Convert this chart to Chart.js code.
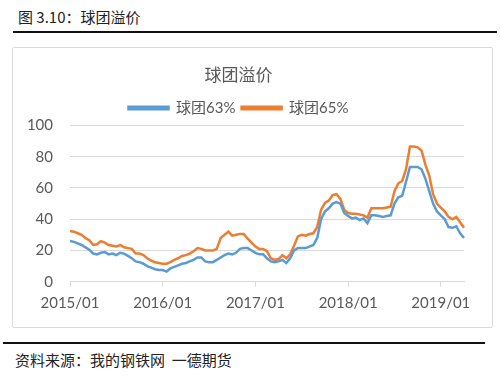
<!DOCTYPE html>
<html>
<head>
<meta charset="utf-8">
<script src="https://cdn.jsdelivr.net/npm/chart.js@4"></script>
<style>
  body { margin: 0; background: #fff; }
  #page { position: relative; width: 500px; height: 382px; overflow: hidden; font-family: "Noto Sans CJK SC", sans-serif; }
  #figTitle { position: absolute; left: 18px; top: 6px; font-size: 15px; color: #222; }
  .rule { position: absolute; height: 2px; background: #111; }
  #box { position: absolute; left: 12px; top: 47px; width: 481px; height: 281px; box-sizing: border-box; border: 1px solid #d9d9d9; border-radius: 2px; }
  #wrap { position: absolute; left: 0; top: 0; width: 479px; height: 279px; }
  #source { position: absolute; left: 15px; top: 349px; font-size: 15px; color: #222; white-space: pre; }
</style>
</head>
<body>
<div id="page">
  <div id="figTitle">图 3.10：球团溢价</div>
  <div class="rule" style="left:13px; top:31px; width:484px;"></div>
  <div id="box">
    <div id="wrap"><canvas id="premiumChart"></canvas></div>
  </div>
  <div class="rule" style="left:3px; top:342px; width:482px;"></div>
  <div id="source">资料来源：我的钢铁网  一德期货</div>
</div>
<script>
  // half-month points, 2015/01/01 .. 2019/04/01
  const years = [2015, 2016, 2017, 2018, 2019];
  const dates = [];
  years.forEach((y) => {
    for (let m = 1; m <= 12; m++) {
      const mm = String(m).padStart(2, "0");
      dates.push(y + "/" + mm + "/01", y + "/" + mm + "/16");
    }
  });
  dates.length = 103;

  const pellet63 = [
    26, 25.5, 24.5, 23.5, 22, 20.5, 18, 17.5, 18.5, 19,
    17.5, 18, 17, 18.5, 18, 16.5, 15, 13, 12.5, 11.5,
    10, 9, 8, 7.5, 7.5, 6.5, 8.5, 9.5, 10.5, 11.5,
    12, 13, 14, 15.5, 15.5, 13, 12.5, 12.5, 14, 15.5,
    17, 18, 17.5, 18.5, 21, 21.5, 21.5, 20, 18.5, 17.5,
    17.5, 15, 13, 12.5, 13, 14, 12, 15, 20, 21.5,
    21.5, 21.5, 22.5, 23.5, 28, 40, 45, 47, 50, 51,
    50, 44, 42, 40.5, 41, 39.5, 40.5, 37.5, 42.5, 42.5,
    42, 41.5, 42, 42.5, 50, 54, 55, 64, 73.5, 73.5,
    73.5, 72, 66, 58, 50, 45, 42.5, 40, 35, 34.5,
    35.5, 31, 28
  ];

  const pellet65 = [
    32.5, 32, 31, 30, 28, 26.5, 23.5, 24, 26, 25,
    23.5, 23, 22.5, 23.5, 22, 21.5, 21, 18, 18, 17,
    15, 13.5, 12.5, 12, 11.5, 11.5, 12.5, 14, 15, 16.5,
    17, 18, 19.5, 21.5, 21, 20, 20, 20, 21, 28,
    30, 32, 29.5, 30, 30.5, 30.5, 27.5, 25, 22.5, 21,
    21, 19.5, 15, 14, 14.5, 17, 15, 17.5, 23, 29,
    30, 29.5, 30.5, 31, 35, 46, 50.5, 52, 55.5, 56,
    53, 46, 44, 43.5, 43.5, 43, 42.5, 41, 47, 47,
    47, 47, 47.5, 48, 58, 63, 64.5, 72, 86.5, 86.5,
    86, 84, 75, 68, 56, 50, 47.5, 45, 41.5, 40,
    41.5, 38, 34.5
  ];

  const yTicks = [0, 20, 40, 60, 80, 100];

  const isYearStart = (i) => dates[i] && dates[i].endsWith("/01/01");
  const axisFont = { family: "Lato, 'Noto Sans CJK SC'", size: 15 };

  const ctx = document.getElementById("premiumChart").getContext("2d");
  new Chart(ctx, {
    type: "line",
    data: {
      labels: dates,
      datasets: [
        {
          label: "球团63%",
          data: pellet63,
          borderColor: "#5B9BD5",
          backgroundColor: "#5B9BD5",
          borderWidth: 2.5,
          pointRadius: 0,
          tension: 0,
        },
        {
          label: "球团65%",
          data: pellet65,
          borderColor: "#ED7D31",
          backgroundColor: "#ED7D31",
          borderWidth: 2.5,
          pointRadius: 0,
          tension: 0,
        },
      ],
    },
    options: {
      responsive: true,
      maintainAspectRatio: false,
      animation: false,
      layout: { padding: { left: 0, right: 28, top: 0, bottom: 0 } },
      plugins: {
        tooltip: { enabled: false },
        title: {
          display: true,
          text: "球团溢价",
          color: "#595959",
          font: { family: "'Noto Sans CJK SC'", size: 17, weight: "normal" },
          padding: { top: 16.3, bottom: 9.6 },
        },
        legend: {
          display: true,
          position: "top",
          labels: {
            boxWidth: 40,
            boxHeight: 2.5,
            padding: 6.2,
            color: "#595959",
            font: { family: "Lato, 'Noto Sans CJK SC'", size: 15 },
          },
        },
      },
      scales: {
        x: {
          type: "category",
          grid: {
            display: true,
            drawOnChartArea: false,
            tickLength: 5,
            color: (c) => (c.tick && isYearStart(c.tick.value) ? "#d9d9d9" : "rgba(0,0,0,0)"),
          },
          border: { color: "#d9d9d9" },
          ticks: {
            autoSkip: false,
            maxRotation: 0,
            minRotation: 0,
            padding: 7.3,
            color: "#595959",
            font: axisFont,
            callback: (v) => (isYearStart(v) ? dates[v].slice(0, 7) : null),
          },
          afterFit: (s) => { s.height = 45.3; },
        },
        y: {
          min: yTicks[0],
          max: yTicks[yTicks.length - 1],
          grid: { color: "#d9d9d9", drawTicks: false },
          border: { display: false },
          ticks: {
            stepSize: 20,
            padding: 17,
            color: "#595959",
            font: axisFont,
          },
          afterFit: (s) => { s.width = 57; },
        },
      },
    },
  });
</script>
</body>
</html>
